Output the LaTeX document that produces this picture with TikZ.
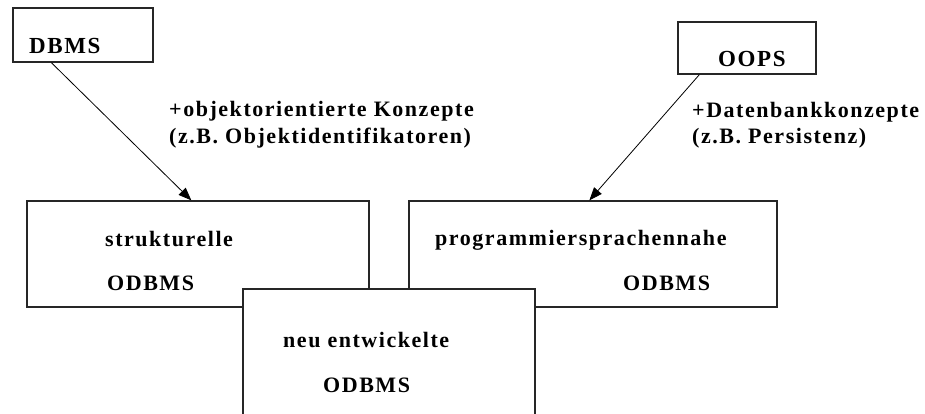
\documentclass[tikz,border=0pt]{standalone}
\usepackage{fontspec}
\setmainfont{Liberation Serif}[LetterSpace=7]
\usetikzlibrary{arrows.meta}
\begin{document}
\begin{tikzpicture}[x=1pt,y=-1pt,
  box/.style={draw=black!85,line width=1.3pt,fill=white,rectangle,inner sep=0pt},
  lbl/.style={anchor=base west,inner sep=0pt,font=\fontsize{22}{26}\selectfont\bfseries},
  big/.style={lbl,font=\fontsize{23}{27}\selectfont\bfseries},
  conn/.style={line width=0.8pt,-{Triangle[length=13pt,width=10pt]}}]
\useasboundingbox (0,0) rectangle (925,413);
\clip (0,0) rectangle (925,413);
\fill[white] (0,0) rectangle (925,413);

% source boxes
\node[box,minimum width=140pt,minimum height=54pt] (dbms) at (83,35) {};
\node[box,minimum width=138pt,minimum height=52pt] (oops) at (747,48) {};
\node[big] (tdbms) at (29,53) {DBMS};
\node[big] (toops) at (718,66) {OOPS};

% target boxes
\node[box,minimum width=342pt,minimum height=106pt] (struk) at (198,254) {};
\node[box,minimum width=368pt,minimum height=106pt] (prog) at (593,254) {};
\node[lbl] (tstruk) at (105,246) {strukturelle};
\node[lbl] (tstrukdb) at (107,290) {ODBMS};
\node[lbl] (tprog) at (435,245) {programmiersprachennahe};
\node[lbl] (tprogdb) at (623,290) {ODBMS};

% new box overlapping both, running past the lower edge
\node[box,minimum width=292pt,minimum height=160pt] (neu) at (389,369) {};
\node[lbl] (tneu) at (283,347) {neu entwickelte};
\node[lbl] (tneudb) at (323,392) {ODBMS};

% connector labels
\node[lbl] (l1) at (169,116) {+objektorientierte Konzepte};
\node[lbl] (l2) at (169,143) {(z.B. Objektidentifikatoren)};
\node[lbl] (r1) at (692,117) {+Datenbankkonzepte};
\node[lbl] (r2) at (692,143) {(z.B. Persistenz)};

% connectors
\coordinate (a0) at ([xshift=39pt]dbms.south west);
\coordinate (a1) at ([xshift=165pt]struk.north west);
\coordinate (b0) at ([xshift=22pt]oops.south west);
\coordinate (b1) at ([xshift=181pt]prog.north west);
\draw[conn] (a0) -- (a1);
\draw[conn] (b0) -- (b1);
\end{tikzpicture}
\end{document}
